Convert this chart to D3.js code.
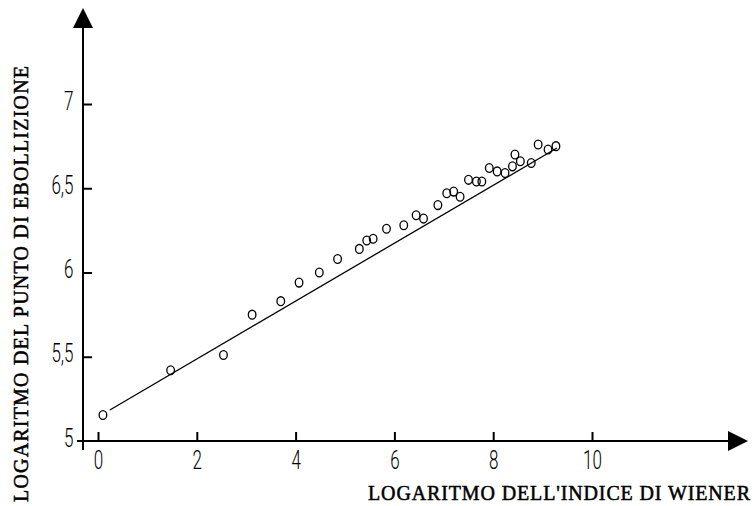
<!DOCTYPE html>
<html>
<head>
<meta charset="utf-8">
<script src="https://cdn.jsdelivr.net/npm/d3@7"></script>
<style>
    body { margin: 0; background: #fff; }
    svg { display: block; }
</style>
</head>
<body>
<div id="wrapper"></div>
<script>
// log of Wiener index (x) and log of boiling point (y)
const logWiener = [0.1, 1.47, 2.54, 3.12, 3.70, 4.07, 4.48, 4.85, 5.29, 5.44, 5.57, 5.84, 6.19, 6.44, 6.59, 6.88,
    7.06, 7.20, 7.33, 7.50, 7.66, 7.77, 7.92, 8.08, 8.24, 8.39, 8.44, 8.55, 8.77, 8.91, 9.11, 9.27]
const logBoiling = [5.154, 5.42, 5.51, 5.75, 5.83, 5.94, 6.00, 6.08, 6.14, 6.19, 6.20, 6.26, 6.28, 6.34, 6.32, 6.40,
    6.47, 6.48, 6.45, 6.55, 6.54, 6.54, 6.62, 6.60, 6.59, 6.63, 6.70, 6.66, 6.65, 6.76, 6.73, 6.75]

// fitted line
const fitX = [0.24, 9.29]
const fitSlope = 0.1718
const fitIntercept = 5.143

const xTicks = [0, 2, 4, 6, 8, 10]
const yTicks = [5, 5.5, 6, 6.5, 7]
const yTickLabels = ['5', '5,5', '6', '6,5', '7']

const xTitle = "LOGARITMO DELL'INDICE DI WIENER"
const yTitle = 'LOGARITMO DEL PUNTO DI EBOLLIZIONE'

function drawChart() {
    let dimensions = {
        width: 756,
        height: 506,
    }

    const wrapper = d3.select('#wrapper')
        .append('svg')
        .attr('width', dimensions.width)
        .attr('height', dimensions.height)

    const xScale = d3.scaleLinear().domain([0, 10]).range([98, 592])
    const yScale = d3.scaleLinear().domain([5, 7]).range([441, 104])

    const axisY = xScale.range()[0] - 15 // x of vertical axis
    const axisX = yScale(5)              // y of horizontal axis

    // axis lines + arrows
    wrapper.append('line')
        .attr('x1', axisY).attr('x2', axisY)
        .attr('y1', axisX + 9).attr('y2', 26)
        .attr('stroke', '#000').attr('stroke-width', 2)
    wrapper.append('path')
        .attr('d', `M${axisY},8 L${axisY - 10},28 L${axisY + 10},28 Z`)
        .attr('fill', '#000')

    wrapper.append('line')
        .attr('x1', axisY - 6).attr('x2', 730)
        .attr('y1', axisX).attr('y2', axisX)
        .attr('stroke', '#000').attr('stroke-width', 2)
    wrapper.append('path')
        .attr('d', `M748,${axisX} L728,${axisX - 10} L728,${axisX + 10} Z`)
        .attr('fill', '#000')

    const tickFont = sel => sel
        .attr('font-family', 'Roboto, sans-serif')
        .attr('font-weight', 300)
        .attr('font-size', 25)
        .attr('fill', '#000')
        .attr('transform', 'scale(0.68,1)')

    // x axis ticks
    const xAxisGenerator = d3.axisBottom(xScale)
        .tickValues(xTicks)
        .tickSize(-9)
        .tickPadding(10)
        .tickFormat(d3.format('d'))
    const xAxis = wrapper.append('g')
        .attr('transform', `translate(0, ${axisX})`)
        .call(xAxisGenerator)
    xAxis.select('.domain').remove()
    xAxis.selectAll('line').attr('stroke', '#000').attr('stroke-width', 2)
    xAxis.selectAll('text').call(tickFont)

    // y axis ticks (on the right side of the line)
    const yAxisGenerator = d3.axisLeft(yScale)
        .tickValues(yTicks)
        .tickSize(-9)
        .tickPadding(14)
        .tickFormat((d, i) => yTickLabels[i])
    const yAxis = wrapper.append('g')
        .attr('transform', `translate(${axisY}, 0)`)
        .call(yAxisGenerator)
    yAxis.select('.domain').remove()
    yAxis.selectAll('line').attr('stroke', '#000').attr('stroke-width', 2)
    yAxis.selectAll('.tick').filter(d => d === 5).select('line').remove()
    yAxis.selectAll('text').call(tickFont).attr('dy', '0.2em')

    // fitted line
    const lineGenerator = d3.line()
        .x(d => xScale(d))
        .y(d => yScale(fitIntercept + fitSlope * d))
    wrapper.append('path')
        .datum(fitX)
        .attr('d', lineGenerator)
        .attr('fill', 'none')
        .attr('stroke', '#000')
        .attr('stroke-width', 1.3)

    // points
    wrapper.append('g')
        .selectAll('ellipse')
        .data(logWiener)
        .join('ellipse')
        .attr('cx', d => xScale(d))
        .attr('cy', (d, i) => yScale(logBoiling[i]))
        .attr('rx', 3.8)
        .attr('ry', 4.4)
        .attr('fill', 'none')
        .attr('stroke', '#000')
        .attr('stroke-width', 1.3)

    // titles
    const titleFont = sel => sel
        .attr('lengthAdjust', 'spacing')
        .attr('font-family', '"Liberation Serif", serif')
        .attr('font-size', 20)
        .attr('stroke', '#000')
        .attr('stroke-width', 0.5)

    wrapper.append('text')
        .attr('x', 368)
        .attr('y', 500)
        .attr('textLength', 382)
        .call(titleFont)
        .text(xTitle)

    wrapper.append('text')
        .attr('transform', 'translate(28, 502) rotate(-90)')
        .attr('textLength', 436)
        .call(titleFont)
        .text(yTitle)
}
drawChart()
</script>
</body>
</html>
